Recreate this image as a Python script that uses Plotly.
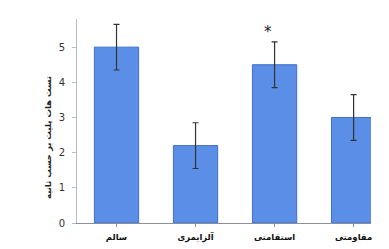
import plotly.graph_objects as go

categories = ["سالم", "آلزایمری", "استقامتی", "مقاومتی"]
values = [5.0, 2.2, 4.5, 3.0]
errors = [0.65, 0.65, 0.65, 0.65]
y_title = "تست هات پلیت بر حسب ثانیه"
sig_label = "*"
sig_index = 2

W, H = 389, 249
fig = go.Figure()
fig.add_trace(go.Bar(
    x=list(range(len(categories))),
    y=values,
    width=0.56,
    marker=dict(color="#5b8ee6", line=dict(color="#3f6fc8", width=1)),
    error_y=dict(type="data", array=errors, visible=True, color="#333333",
                 thickness=1.2, width=3),
))

fig.add_annotation(x=sig_index, y=values[sig_index] + errors[sig_index] + 0.28,
                   text=sig_label, showarrow=False, xshift=-7,
                   font=dict(size=15, color="#222222", family="DejaVu Sans"))

fig.add_annotation(xref="paper", yref="paper",
                   x=(48 - 77) / (W - 77 - 18), y=(223 - 138) / (223 - 19),
                   xanchor="center", yanchor="middle",
                   text="<b>%s</b>" % y_title, textangle=-90, showarrow=False,
                   font=dict(size=8.5, color="#222222", family="DejaVu Sans"))

fig.update_layout(
    width=W, height=H,
    margin=dict(l=77, r=18, t=19, b=26),
    plot_bgcolor="white", paper_bgcolor="white",
    showlegend=False,
    font=dict(family="DejaVu Sans", color="#222222"),
    xaxis=dict(
        range=[-0.5, 3.22],
        tickmode="array", tickvals=list(range(len(categories))),
        ticktext=["<b>%s</b>" % c for c in categories],
        tickfont=dict(size=8.5, color="#111111", family="DejaVu Sans"),
        showline=True, linecolor="#8a8f99", linewidth=1,
        ticks="outside", ticklen=3, tickcolor="#8a8f99",
        showgrid=False, zeroline=False, automargin=False,
        ticklabelstandoff=3,
    ),
    yaxis=dict(
        range=[0, 5.8],
        tickvals=[0, 1, 2, 3, 4, 5],
        tickfont=dict(size=10, color="#333333", family="DejaVu Sans"),
        showline=True, linecolor="#b8bcc4", linewidth=1,
        ticks="outside", ticklen=4, tickcolor="#b8bcc4",
        showgrid=False, zeroline=False, automargin=False,
        ticklabelstandoff=5,
    ),
)

fig.write_html("out.html")
